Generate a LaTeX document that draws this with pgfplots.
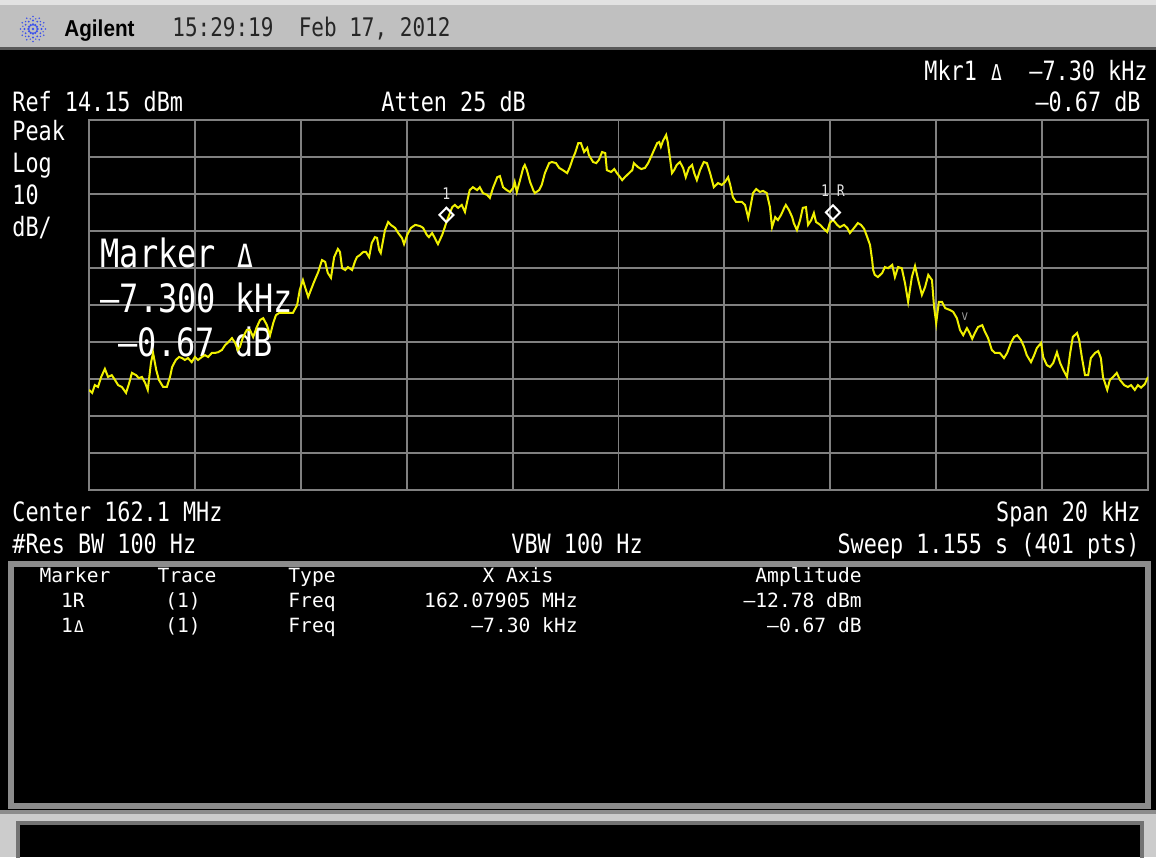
\documentclass[border=0pt]{standalone}
\usepackage{graphicx}
\usepackage{fontspec}
\usepackage{pgfplots}
\pgfplotsset{compat=1.18}
\setmainfont{DejaVu Sans Mono}
\newfontfamily\scr[FakeStretch=0.82]{DejaVu Sans Mono}
\newfontfamily\tbl{DejaVu Sans Mono}
\newfontfamily\logo[FakeStretch=0.9]{Liberation Sans}
\newcommand\fs[1]{\fontsize{#1}{#1}\selectfont}
% small open delta, one character cell wide
\newcommand\tri{\hbox to \fontcharwd\font`0{\hss\scalebox{0.82}{Δ}\hss}}

\definecolor{bar}{RGB}{192,192,192}
\definecolor{barlight}{RGB}{226,226,226}
\definecolor{gridc}{RGB}{128,128,128}
\definecolor{panelc}{RGB}{140,140,140}
\definecolor{trace}{RGB}{240,240,0}
\definecolor{spark}{RGB}{60,80,235}

\begin{document}
\begin{tikzpicture}
% screen furniture, in screen pixels (y downwards)
\begin{scope}[x=0.5pt,y=-0.5pt]
  \useasboundingbox (0,0) rectangle (1156,857);
  \fill[black] (0,0) rectangle (1156,857);
  \fill[bar] (0,0) rectangle (1156,48);
  \fill[barlight] (0,0) rectangle (1156,5);
  \fill[black!65] (0,47) rectangle (1156,50);
  % spark logo: rays of dots thinning outwards
  \foreach \a in {0,30,...,330} {
    \fill[spark] (33,29) ++(\a:4.5) circle (1.3);
    \fill[spark] (33,29) ++(\a:8.5) circle (1.1);
    \fill[spark] (33,29) ++(\a:12.5) circle (0.9);
  }
  \foreach \a in {15,45,...,345}
    \fill[spark] (33,29) ++(\a:10.5) circle (0.8);
  \fill[spark] (33,29) circle (1.3);
  \node[anchor=base west, inner sep=0, text=black,
        font={\logo\bfseries\fs{11.5}}] at (64,36) {Agilent};
  \node[anchor=base west, inner sep=0, text=black!85,
        font={\scr\fs{12.8}}] at (172,36) {15:29:19~ Feb 17, 2012};

  \begin{scope}[every node/.style={inner sep=0, text=white, font={\scr\fs{13.3}}}]
    \node[anchor=base east] at (1148,80) {Mkr1 \tri~~–7.30 kHz};
    \node[anchor=base east] at (1141,111) {–0.67 dB};
    \node[anchor=base west] at (12,111) {Ref 14.15 dBm};
    \node[anchor=base west] at (381,111) {Atten 25 dB};
    \node[anchor=base west] at (12,140) {Peak};
    \node[anchor=base west] at (12,172) {Log};
    \node[anchor=base west] at (12,204) {10};
    \node[anchor=base west] at (12,236) {dB/};
    \node[anchor=base west] at (12,521) {Center 162.1 MHz};
    \node[anchor=base east] at (1141,521) {Span 20 kHz};
    \node[anchor=base west] at (12,553) {\#Res BW 100 Hz};
    \node[anchor=base west] at (511,553) {VBW 100 Hz};
    \node[anchor=base east] at (1140,553) {Sweep 1.155 s (401 pts)};
  \end{scope}

  % marker table panel
  \draw[panelc, line width=3] (11,564) rectangle (1148,806);
  \begin{scope}[every node/.style={inner sep=0, text=white, font={\tbl\fs{9.8}}}]
    \node[anchor=base] at (75,582) {Marker};
    \node[anchor=base] at (187,582) {Trace};
    \node[anchor=base west] at (288,582) {Type};
    \node[anchor=base] at (518,582) {X Axis};
    \node[anchor=base east] at (862,582) {Amplitude};
    \node[anchor=base] at (73,607) {1R};
    \node[anchor=base] at (183,607) {(1)};
    \node[anchor=base west] at (288,607) {Freq};
    \node[anchor=base east] at (578,607) {162.07905 MHz};
    \node[anchor=base east] at (862,607) {–12.78 dBm};
    \node[anchor=base] at (73,632) {1\tri};
    \node[anchor=base] at (183,632) {(1)};
    \node[anchor=base west] at (288,632) {Freq};
    \node[anchor=base east] at (578,632) {–7.30 kHz};
    \node[anchor=base east] at (862,632) {–0.67 dB};
  \end{scope}

  % message line
  \fill[black!45] (0,810) rectangle (1156,857);
  \fill[black!20] (0,814) rectangle (1156,857);
  \fill[black] (19,824) rectangle (1141,857);
  \draw[black!55, line width=2] (18,823) rectangle (1142,860);
\end{scope}

\begin{axis}[
  at={(44.5pt,-245pt)}, anchor=south west,
  scale only axis, width=529.5pt, height=185pt,
  xmin=-10, xmax=10, ymin=-85.85, ymax=14.15,
  xtick={-8,-6,...,8},
  ytick={-75.85,-65.85,...,4.15},
  xticklabels={}, yticklabels={},
  major tick length=0pt,
  grid=major,
  grid style={gridc, line width=0.95pt},
  axis line style={gridc, line width=1.4pt},
]
  % active marker readout
  \node[anchor=base west, inner sep=0, text=white, font={\scr\fs{19.5}}]
    at (axis cs:-9.79,-25.58) {Marker \tri};
  \node[anchor=base west, inner sep=0, text=white, font={\scr\fs{19.5}}]
    at (axis cs:-9.79,-37.74) {–7.300 kHz};
  \node[anchor=base west, inner sep=0, text=white, font={\scr\fs{19.5}}]
    at (axis cs:-9.45,-49.9) {–0.67 dB};

  % trace 1, offset from centre in kHz, level in dBm
  \addplot[trace, line width=1pt] coordinates {
(-10.00,-58.8) (-9.94,-59.6) (-9.89,-57.5) (-9.83,-58.0) (-9.77,-55.3) (-9.70,-53.1) (-9.64,-55.3) (-9.57,-54.8) (-9.51,-56.1) (-9.45,-57.5)
(-9.38,-58.0) (-9.30,-59.6) (-9.24,-56.9) (-9.19,-54.2) (-9.11,-54.8) (-9.06,-55.6) (-9.00,-55.3) (-8.94,-56.9) (-8.89,-58.8) (-8.83,-51.5)
(-8.79,-48.8) (-8.73,-53.4) (-8.68,-56.1) (-8.60,-58.0) (-8.53,-58.0) (-8.47,-55.3) (-8.43,-52.6) (-8.36,-50.7) (-8.30,-49.9) (-8.24,-50.2)
(-8.19,-50.7) (-8.13,-50.2) (-8.06,-51.3) (-8.00,-49.9) (-7.94,-50.7) (-7.87,-49.9) (-7.81,-49.4) (-7.75,-49.9) (-7.68,-48.8) (-7.62,-48.8)
(-7.56,-48.6) (-7.49,-48.0) (-7.43,-46.7) (-7.37,-45.9) (-7.30,-44.8) (-7.24,-46.1) (-7.19,-48.0) (-7.15,-47.2) (-7.09,-44.5) (-7.02,-42.6)
(-6.96,-42.6) (-6.90,-44.5) (-6.83,-41.8) (-6.77,-39.9) (-6.71,-39.4) (-6.64,-41.3) (-6.58,-44.0) (-6.52,-40.7) (-6.47,-38.6) (-6.41,-38.0)
(-6.34,-38.0) (-6.24,-38.0) (-6.15,-38.0) (-6.07,-35.9) (-6.02,-31.8) (-5.96,-29.1) (-5.92,-31.0) (-5.86,-33.7) (-5.81,-31.8) (-5.75,-29.6)
(-5.67,-26.9) (-5.60,-23.7) (-5.54,-24.2) (-5.49,-27.2) (-5.43,-28.5) (-5.37,-22.9) (-5.30,-20.7) (-5.26,-21.5) (-5.22,-25.9) (-5.16,-26.4)
(-5.11,-25.6) (-5.03,-26.4) (-4.98,-24.2) (-4.94,-22.9) (-4.88,-22.3) (-4.82,-21.5) (-4.77,-21.5) (-4.71,-22.9) (-4.66,-19.1) (-4.60,-17.5)
(-4.56,-17.7) (-4.52,-21.0) (-4.49,-21.8) (-4.41,-15.6) (-4.35,-13.4) (-4.30,-14.2) (-4.22,-15.0) (-4.16,-16.4) (-4.09,-17.7) (-4.05,-19.4)
(-3.99,-16.9) (-3.92,-15.0) (-3.84,-14.2) (-3.75,-14.5) (-3.69,-15.0) (-3.62,-16.9) (-3.58,-17.5) (-3.52,-16.4) (-3.47,-17.7) (-3.41,-19.4)
(-3.33,-16.9) (-3.28,-14.8) (-3.25,-13.45) (-3.22,-12.3) (-3.14,-9.4) (-3.09,-8.8) (-3.03,-9.6) (-2.96,-8.8) (-2.90,-10.7) (-2.86,-8.0)
(-2.81,-4.8) (-2.75,-4.0) (-2.67,-4.8) (-2.62,-4.0) (-2.56,-5.6) (-2.48,-6.1) (-2.43,-6.9) (-2.37,-4.2) (-2.29,-1.3) (-2.24,-1.0)
(-2.18,-4.0) (-2.11,-4.8) (-2.05,-5.3) (-1.99,-4.2) (-1.96,-2.6) (-1.92,-5.3) (-1.86,-2.1) (-1.80,1.2) (-1.77,2.0) (-1.73,0.6)
(-1.67,-2.6) (-1.61,-4.8) (-1.58,-5.6) (-1.50,-4.8) (-1.45,-3.4) (-1.39,-0.2) (-1.31,2.5) (-1.26,2.8) (-1.18,2.5) (-1.12,1.2)
(-1.05,0.6) (-0.97,-0.2) (-0.92,1.4) (-0.86,3.9) (-0.82,5.2) (-0.76,7.9) (-0.71,7.9) (-0.65,5.5) (-0.59,6.6) (-0.56,4.7)
(-0.48,2.8) (-0.42,2.5) (-0.37,3.4) (-0.31,5.5) (-0.25,5.2) (-0.22,0.6) (-0.14,0.1) (-0.08,0.9) (-0.03,-0.2) (0.03,-1.3)
(0.07,-2.1) (0.12,-1.3) (0.20,-0.2) (0.26,0.6) (0.29,2.5) (0.37,1.4) (0.43,0.9) (0.50,1.2) (0.56,2.5) (0.63,4.7)
(0.67,6.0) (0.73,7.9) (0.77,8.2) (0.80,6.9) (0.84,8.5) (0.90,10.1) (0.93,8.2) (0.97,4.1) (1.01,-0.2) (1.05,0.6)
(1.10,2.0) (1.16,2.8) (1.22,1.2) (1.27,-1.3) (1.33,1.2) (1.39,2.0) (1.43,-0.2) (1.48,-2.1) (1.54,0.6) (1.61,2.8)
(1.67,2.5) (1.73,-0.2) (1.80,-4.0) (1.88,-2.9) (1.95,-3.4) (2.01,-2.6) (2.07,-1.3) (2.11,-3.4) (2.16,-6.7) (2.22,-8.0)
(2.28,-8.0) (2.33,-8.0) (2.39,-8.8) (2.45,-12.3) (2.48,-10.2) (2.54,-5.6) (2.60,-4.5) (2.67,-5.3) (2.73,-5.0) (2.80,-5.6)
(2.86,-9.4) (2.90,-14.8) (2.96,-12.1) (3.01,-12.9) (3.07,-11.5) (3.13,-9.6) (3.16,-8.8) (3.22,-10.2) (3.28,-12.1) (3.31,-13.7)
(3.37,-15.6) (3.43,-12.9) (3.48,-9.6) (3.54,-9.4) (3.58,-14.2) (3.64,-12.9) (3.69,-11.0) (3.73,-13.4) (3.81,-14.2) (3.86,-15.0)
(3.94,-16.1) (3.99,-13.7) (4.05,-12.78) (4.13,-14.2) (4.18,-14.8) (4.26,-14.2) (4.32,-15.0) (4.37,-16.4) (4.45,-15.0) (4.52,-13.7)
(4.58,-14.2) (4.64,-15.3) (4.69,-17.2) (4.75,-19.6) (4.79,-23.7) (4.81,-26.4) (4.84,-27.7) (4.90,-28.3) (4.98,-27.2) (5.03,-25.6)
(5.09,-25.9) (5.17,-25.0) (5.22,-28.3) (5.28,-25.6) (5.35,-25.9) (5.41,-29.9) (5.47,-35.0) (5.54,-28.3) (5.60,-25.3) (5.66,-29.1)
(5.73,-33.1) (5.79,-31.0) (5.85,-27.7) (5.92,-29.1) (5.96,-36.4) (6.00,-40.7) (6.05,-35.0) (6.11,-35.0) (6.17,-36.7) (6.26,-37.2)
(6.32,-37.7) (6.39,-39.4) (6.45,-42.6) (6.51,-44.0) (6.58,-42.1) (6.62,-43.1) (6.68,-45.0) (6.73,-43.4) (6.79,-41.8) (6.87,-41.3)
(6.92,-43.1) (6.98,-44.8) (7.05,-48.0) (7.11,-48.8) (7.20,-48.8) (7.28,-50.2) (7.34,-48.8) (7.41,-46.1) (7.47,-44.5) (7.53,-44.0)
(7.60,-45.3) (7.66,-47.2) (7.71,-49.4) (7.79,-51.3) (7.85,-49.4) (7.90,-47.5) (7.98,-46.1) (8.02,-49.9) (8.09,-52.1) (8.15,-52.6)
(8.21,-51.5) (8.28,-48.6) (8.34,-51.5) (8.40,-53.4) (8.47,-55.3) (8.53,-48.8) (8.58,-44.5) (8.66,-43.4) (8.70,-45.3) (8.75,-49.9)
(8.81,-54.8) (8.87,-54.8) (8.92,-50.2) (9.00,-48.8) (9.06,-48.3) (9.11,-50.2) (9.15,-55.3) (9.23,-58.8) (9.28,-56.1) (9.34,-55.3)
(9.41,-54.2) (9.47,-56.1) (9.55,-57.5) (9.62,-58.0) (9.68,-57.5) (9.75,-58.8) (9.81,-57.5) (9.87,-58.2) (9.94,-57.2) (10.00,-55.3)
  };

  % markers 1 (delta) and 1R (reference)
  \addplot[only marks, mark=diamond, mark size=3.6pt,
    mark options={white, line width=1pt, xscale=1.3, yshift=3.6pt}]
    coordinates {(-3.25,-13.45) (4.05,-12.78)};
  \node[inner sep=0, text=white!88!black, font={\scr\fs{8}}, yshift=14pt]
    at (axis cs:-3.25,-13.45) {1};
  \node[inner sep=0, text=white!88!black, font={\scr\fs{8}}, yshift=14.3pt]
    at (axis cs:4.05,-12.78) {1 R};
  % threshold caret
  \node[inner sep=0, text=white!60!black, font={\scr\fs{7}}]
    at (axis cs:6.54,-39.1) {v};
\end{axis}
\end{tikzpicture}
\end{document}
